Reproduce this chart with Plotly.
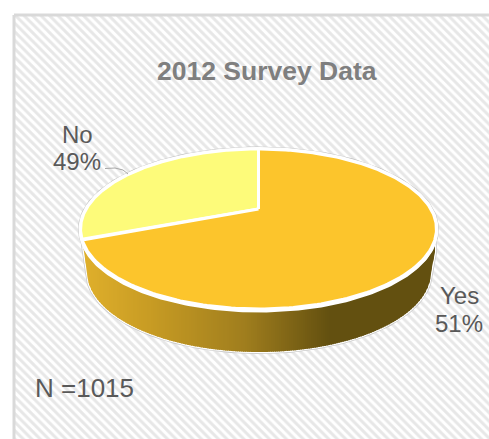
import numpy as np
import plotly.graph_objects as go

# Data
categories = ["No", "Yes"]
label_percents = ["49%", "51%"]
drawn_shares = [31.1, 68.9]   # slice sizes as drawn in the picture
title_text = "2012 Survey Data"
note_text = "N =1015"
slice_colors = ["#FDFB7A", "#FCC52C"]

# Projection of the tilted disc
W, H = 489, 439
CX, CY = 258.5, 209
A, B, K = 172.3, 75.0, 0.25

def project(theta):
    u, v = np.sin(theta), np.cos(theta)
    w = 1 + K * v
    return CX + A * u / w, CY - B * v / w

fig = go.Figure()

def poly(x, y, fill=None, line=None, width=0, **kw):
    fig.add_trace(go.Scatter(
        x=list(x), y=list(y), mode="lines",
        fill="toself" if fill or kw.get("fillpattern") else None,
        fillcolor=fill, line=dict(color=line or "rgba(0,0,0,0)", width=width),
        hoverinfo="skip", showlegend=False, **kw))

# Panel with hatch
poly([14, W + 5, W + 5, 14, 14], [15, 15, H + 5, H + 5, 15], fill="#ffffff",
     fillpattern=dict(shape="\\", size=6, solidity=0.5, fgcolor="#d0d0d0", bgcolor="#ffffff"),
     line="#d9d9d9", width=3)

# Wall of the disc
LOW_CX, LOW_CY, LOW_RX, LOW_RY = 259, 272, 172, 80
X0, X1 = 83, 435

def wall_bottom(x):
    if x < LOW_CX - LOW_RX:
        return 245 + (x - X0) / (LOW_CX - LOW_RX - X0) * (LOW_CY - 245)
    if x > LOW_CX + LOW_RX:
        return 252 + (X1 - x) / (X1 - LOW_CX - LOW_RX) * (LOW_CY - 252)
    return LOW_CY + LOW_RY * np.sqrt(max(0, 1 - ((x - LOW_CX) / LOW_RX) ** 2))

stop_x = [83, 150, 245, 330, 435]
stop_c = np.array([[224, 176, 44], [200, 156, 36], [160, 126, 30], [99, 80, 16], [99, 80, 16]], float)

xs_out = np.linspace(X0, X1, 120)
ys_out = [wall_bottom(x) for x in xs_out]
# silhouette halo, white edge
sil_x = [X0] + list(xs_out) + [X1]
sil_y = [235] + ys_out + [235]
poly(sil_x, sil_y, line="#c9c9c9", width=4)
poly(sil_x, sil_y, line="#ffffff", width=2.5)

edges = np.linspace(X0, X1, 177)
for i in range(len(edges) - 1):
    a, b = edges[i], edges[i + 1] + 0.8
    mid = (edges[i] + edges[i + 1]) / 2
    c = [np.interp(mid, stop_x, stop_c[:, k]) for k in range(3)]
    bx = np.linspace(a, min(b, X1), 3)
    by = [wall_bottom(x) for x in bx]
    poly(list(bx) + [bx[-1], bx[0], bx[0]], by + [225, 225, by[0]],
         fill="rgb(%d,%d,%d)" % tuple(c))

# Disc top
rim = np.linspace(0, 2 * np.pi, 361)
rx, ry = project(rim)
poly(rx, ry, fill="#ffffff", line="#c4c4c4", width=5)
poly(rx, ry + 2, fill="#ffffff", line="#ffffff", width=3)   # thicker white rim along the front
poly(rx, ry, fill="#ffffff", line="#ffffff", width=4)

# Slices: first goes counter-clockwise from 12 o'clock, the rest follows
total = sum(drawn_shares)
no_sweep = 2 * np.pi * drawn_shares[0] / total
ranges = [(2 * np.pi - no_sweep, 2 * np.pi), (0, 2 * np.pi - no_sweep)]
for (t0, t1), col in zip(ranges, slice_colors):
    th = np.linspace(t0, t1, 240)
    x, y = project(th)
    poly([CX] + list(x) + [CX], [CY] + list(y) + [CY], fill=col, line="#ffffff", width=3)

# Leader line
lx = np.array([105, 115, 123, 128])
ly = np.array([168.5, 168, 170, 174])
poly(lx, ly, line="#a6a6a6", width=1)

ann = dict(showarrow=False, xref="x", yref="y", font=dict(family="Liberation Sans, Arial", size=24, color="#595959"))
anns = [
    dict(ann, x=267, y=71, text=title_text,
         font=dict(family="Liberation Sans, Arial", size=26.5, color="#7f7f7f", weight="bold")),
    dict(ann, x=77, y=134, text=categories[0]),
    dict(ann, x=77, y=161, text=label_percents[0]),
    dict(ann, x=459, y=295, text=categories[1]),
    dict(ann, x=459, y=323, text=label_percents[1]),
    dict(ann, x=84, y=388, text=note_text,
         font=dict(family="Liberation Sans, Arial", size=26, color="#595959")),
]

fig.update_layout(
    width=W, height=H, margin=dict(l=0, r=0, t=0, b=0),
    paper_bgcolor="#ffffff", plot_bgcolor="#ffffff",
    xaxis=dict(range=[0, W], visible=False, fixedrange=True),
    yaxis=dict(range=[H, 0], visible=False, fixedrange=True),
    annotations=anns, showlegend=False,
)
fig.write_html("out.html", config=dict(displayModeBar=False),
               post_script="document.body.style.margin='0';document.body.style.overflow='hidden';")
